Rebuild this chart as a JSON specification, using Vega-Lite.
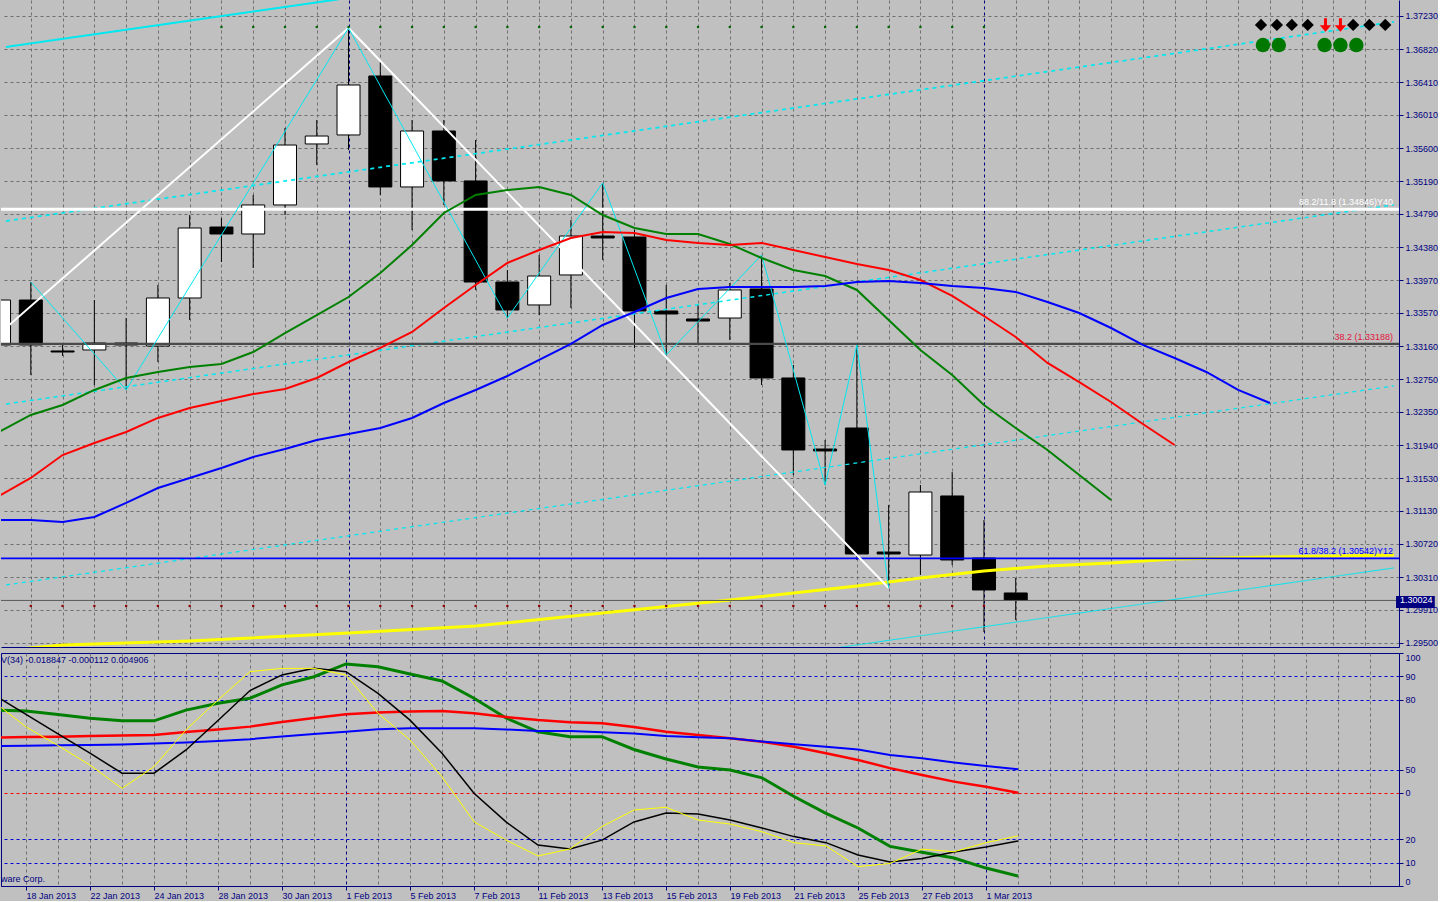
{
  "$schema": "https://vega.github.io/schema/vega-lite/v6.json",
  "background": "#c0c0c0",
  "padding": 0,
  "spacing": 4,
  "config": {
    "view": {"stroke": null},
    "axis": {"labelFont": "Liberation Sans", "labelFontSize": 9, "labelColor": "#000080", "tickColor": "#000080", "domainColor": "#000080", "tickSize": 4, "labelPadding": 2},
    "text": {"font": "Liberation Sans", "fontSize": 9}
  },
  "datasets": {
    "bars": [
      {"i":-1,"o":1.33174,"h":1.33852,"l":1.33050,"c":1.33728},
      {"i":0,"o":1.33728,"h":1.33950,"l":1.32804,"c":1.33174},
      {"i":1,"o":1.33100,"h":1.33174,"l":1.33038,"c":1.33087},
      {"i":2,"o":1.33112,"h":1.33728,"l":1.32680,"c":1.33198},
      {"i":3,"o":1.33198,"h":1.33506,"l":1.32619,"c":1.33174},
      {"i":4,"o":1.33161,"h":1.33913,"l":1.32964,"c":1.33753},
      {"i":5,"o":1.33753,"h":1.34776,"l":1.33482,"c":1.34616},
      {"i":6,"o":1.34628,"h":1.34739,"l":1.34197,"c":1.34542},
      {"i":7,"o":1.34542,"h":1.35023,"l":1.34123,"c":1.34900},
      {"i":8,"o":1.34900,"h":1.35849,"l":1.34776,"c":1.35639},
      {"i":9,"o":1.35652,"h":1.35948,"l":1.35393,"c":1.35750},
      {"i":10,"o":1.35763,"h":1.37082,"l":1.35578,"c":1.36379},
      {"i":11,"o":1.36490,"h":1.36663,"l":1.35023,"c":1.35122},
      {"i":12,"o":1.35122,"h":1.35948,"l":1.34591,"c":1.35812},
      {"i":13,"o":1.35812,"h":1.35948,"l":1.34900,"c":1.35196},
      {"i":14,"o":1.35196,"h":1.35701,"l":1.33852,"c":1.33950},
      {"i":15,"o":1.33950,"h":1.34098,"l":1.33506,"c":1.33605},
      {"i":16,"o":1.33667,"h":1.34283,"l":1.33543,"c":1.34024},
      {"i":17,"o":1.34037,"h":1.34715,"l":1.33630,"c":1.34517},
      {"i":18,"o":1.34517,"h":1.35171,"l":1.34222,"c":1.34493},
      {"i":19,"o":1.34505,"h":1.34591,"l":1.33137,"c":1.33593},
      {"i":20,"o":1.33593,"h":1.33913,"l":1.33050,"c":1.33556},
      {"i":21,"o":1.33494,"h":1.33667,"l":1.33174,"c":1.33469},
      {"i":22,"o":1.33506,"h":1.33938,"l":1.33235,"c":1.33852},
      {"i":23,"o":1.33864,"h":1.34283,"l":1.32680,"c":1.32767},
      {"i":24,"o":1.32767,"h":1.32927,"l":1.31571,"c":1.31879},
      {"i":25,"o":1.31891,"h":1.32002,"l":1.31447,"c":1.31867},
      {"i":26,"o":1.32150,"h":1.33174,"l":1.30523,"c":1.30597},
      {"i":27,"o":1.30621,"h":1.31201,"l":1.30178,"c":1.30597},
      {"i":28,"o":1.30584,"h":1.31447,"l":1.30338,"c":1.31361},
      {"i":29,"o":1.31312,"h":1.31608,"l":1.30461,"c":1.30523},
      {"i":30,"o":1.30547,"h":1.31016,"l":1.29635,"c":1.30153},
      {"i":31,"o":1.30116,"h":1.30301,"l":1.29783,"c":1.30024}
    ],
    "gator": [
      {"s":"lips","i":-1,"p":1.32101},{"s":"lips","i":0,"p":1.32311},{"s":"lips","i":1,"p":1.32434},{"s":"lips","i":2,"p":1.32619},{"s":"lips","i":3,"p":1.32767},{"s":"lips","i":4,"p":1.32841},{"s":"lips","i":5,"p":1.32902},{"s":"lips","i":6,"p":1.32939},{"s":"lips","i":7,"p":1.33087},{"s":"lips","i":8,"p":1.33321},{"s":"lips","i":9,"p":1.33543},{"s":"lips","i":10,"p":1.33765},{"s":"lips","i":11,"p":1.34061},{"s":"lips","i":12,"p":1.34406},{"s":"lips","i":13,"p":1.34801},{"s":"lips","i":14,"p":1.35023},{"s":"lips","i":15,"p":1.35084},{"s":"lips","i":16,"p":1.35122},{"s":"lips","i":17,"p":1.35023},{"s":"lips","i":18,"p":1.34776},{"s":"lips","i":19,"p":1.34616},{"s":"lips","i":20,"p":1.34542},{"s":"lips","i":21,"p":1.34542},{"s":"lips","i":22,"p":1.34419},{"s":"lips","i":23,"p":1.34246},{"s":"lips","i":24,"p":1.34098},{"s":"lips","i":25,"p":1.34024},{"s":"lips","i":26,"p":1.33852},{"s":"lips","i":27,"p":1.33482},{"s":"lips","i":28,"p":1.33112},{"s":"lips","i":29,"p":1.32804},{"s":"lips","i":30,"p":1.32434},{"s":"lips","i":31,"p":1.32150},{"s":"lips","i":32,"p":1.31879},{"s":"lips","i":33,"p":1.31571},{"s":"lips","i":34,"p":1.31262},
      {"s":"teeth","i":-1,"p":1.31312},{"s":"teeth","i":0,"p":1.31534},{"s":"teeth","i":1,"p":1.31817},{"s":"teeth","i":2,"p":1.31965},{"s":"teeth","i":3,"p":1.32101},{"s":"teeth","i":4,"p":1.32274},{"s":"teeth","i":5,"p":1.32397},{"s":"teeth","i":6,"p":1.32483},{"s":"teeth","i":7,"p":1.32569},{"s":"teeth","i":8,"p":1.32631},{"s":"teeth","i":9,"p":1.32767},{"s":"teeth","i":10,"p":1.32964},{"s":"teeth","i":11,"p":1.33137},{"s":"teeth","i":12,"p":1.33334},{"s":"teeth","i":13,"p":1.33630},{"s":"teeth","i":14,"p":1.33913},{"s":"teeth","i":15,"p":1.34185},{"s":"teeth","i":16,"p":1.34345},{"s":"teeth","i":17,"p":1.34493},{"s":"teeth","i":18,"p":1.34567},{"s":"teeth","i":19,"p":1.34554},{"s":"teeth","i":20,"p":1.34468},{"s":"teeth","i":21,"p":1.34431},{"s":"teeth","i":22,"p":1.34406},{"s":"teeth","i":23,"p":1.34431},{"s":"teeth","i":24,"p":1.34345},{"s":"teeth","i":25,"p":1.34258},{"s":"teeth","i":26,"p":1.34172},{"s":"teeth","i":27,"p":1.34098},{"s":"teeth","i":28,"p":1.33975},{"s":"teeth","i":29,"p":1.33778},{"s":"teeth","i":30,"p":1.33531},{"s":"teeth","i":31,"p":1.33272},{"s":"teeth","i":32,"p":1.32952},{"s":"teeth","i":33,"p":1.32717},{"s":"teeth","i":34,"p":1.32471},{"s":"teeth","i":35,"p":1.32200},{"s":"teeth","i":36,"p":1.31941},
      {"s":"jaw","i":-1,"p":1.31016},{"s":"jaw","i":0,"p":1.31016},{"s":"jaw","i":1,"p":1.30991},{"s":"jaw","i":2,"p":1.31053},{"s":"jaw","i":3,"p":1.31226},{"s":"jaw","i":4,"p":1.31410},{"s":"jaw","i":5,"p":1.31534},{"s":"jaw","i":6,"p":1.31657},{"s":"jaw","i":7,"p":1.31793},{"s":"jaw","i":8,"p":1.31891},{"s":"jaw","i":9,"p":1.32002},{"s":"jaw","i":10,"p":1.32076},{"s":"jaw","i":11,"p":1.32150},{"s":"jaw","i":12,"p":1.32274},{"s":"jaw","i":13,"p":1.32458},{"s":"jaw","i":14,"p":1.32619},{"s":"jaw","i":15,"p":1.32791},{"s":"jaw","i":16,"p":1.32989},{"s":"jaw","i":17,"p":1.33186},{"s":"jaw","i":18,"p":1.33420},{"s":"jaw","i":19,"p":1.33580},{"s":"jaw","i":20,"p":1.33753},{"s":"jaw","i":21,"p":1.33864},{"s":"jaw","i":22,"p":1.33889},{"s":"jaw","i":23,"p":1.33889},{"s":"jaw","i":24,"p":1.33889},{"s":"jaw","i":25,"p":1.33901},{"s":"jaw","i":26,"p":1.33950},{"s":"jaw","i":27,"p":1.33963},{"s":"jaw","i":28,"p":1.33938},{"s":"jaw","i":29,"p":1.33901},{"s":"jaw","i":30,"p":1.33876},{"s":"jaw","i":31,"p":1.33827},{"s":"jaw","i":32,"p":1.33704},{"s":"jaw","i":33,"p":1.33568},{"s":"jaw","i":34,"p":1.33383},{"s":"jaw","i":35,"p":1.33174},{"s":"jaw","i":36,"p":1.33013},{"s":"jaw","i":37,"p":1.32841},{"s":"jaw","i":38,"p":1.32619},{"s":"jaw","i":39,"p":1.32458}
    ],
    "slow": [
      {"i":-1,"p":1.29401},{"i":1,"p":1.29475},{"i":5,"p":1.29524},{"i":10,"p":1.29623},{"i":14,"p":1.29709},{"i":18,"p":1.29869},{"i":22,"p":1.30030},{"i":26,"p":1.30202},{"i":28,"p":1.30301},{"i":30,"p":1.30387},{"i":32,"p":1.30449},{"i":34,"p":1.30486},{"i":36,"p":1.30535},{"i":39,"p":1.30560},{"i":42.906,"p":1.30584}
    ],
    "chan": [
      {"line":"A","i":-0.781,"p":1.36848},{"line":"A","i":42.906,"p":1.39302},
      {"line":"B","i":-0.781,"p":1.34702},{"line":"B","i":42.906,"p":1.37157},
      {"line":"C","i":-0.781,"p":1.32446},{"line":"C","i":42.906,"p":1.34901},
      {"line":"D","i":-0.781,"p":1.30215},{"line":"D","i":42.906,"p":1.32669},
      {"line":"E","i":-0.781,"p":1.27971},{"line":"E","i":42.906,"p":1.30425}
    ],
    "zz": [
      {"z":"big","i":-1,"p":1.33309},{"z":"big","i":10,"p":1.37082},{"z":"big","i":27,"p":1.30178},
      {"z":"small","i":0,"p":1.33950},{"z":"small","i":3,"p":1.32619},{"z":"small","i":10,"p":1.37082},{"z":"small","i":15,"p":1.33506},{"z":"small","i":18,"p":1.35171},{"z":"small","i":20,"p":1.33050},{"z":"small","i":23,"p":1.34283},{"z":"small","i":25,"p":1.31447},{"z":"small","i":26,"p":1.33174},{"z":"small","i":27,"p":1.30178}
    ],
    "lvl": [
      {"name":"w","p":1.34846},{"name":"g","p":1.33188},{"name":"b","p":1.30542},{"name":"bid","p":1.30024}
    ],
    "lbl": [
      {"name":"w","i":42.906,"p":1.34846,"t":"88.2/11.8 (1.34846)Y40"},
      {"name":"g","i":42.906,"p":1.33188,"t":"38.2 (1.33188)"},
      {"name":"b","i":42.906,"p":1.30542,"t":"61.8/38.2 (1.30542)Y12"}
    ],
    "dots": [
      {"row":"top","i":6,"p":1.37094},{"row":"top","i":7,"p":1.37094},{"row":"top","i":8,"p":1.37094},{"row":"top","i":9,"p":1.37094},{"row":"top","i":10,"p":1.37094},{"row":"top","i":11,"p":1.37094},{"row":"top","i":12,"p":1.37094},{"row":"top","i":13,"p":1.37094},{"row":"top","i":14,"p":1.37094},{"row":"top","i":15,"p":1.37094},{"row":"top","i":16,"p":1.37094},{"row":"top","i":17,"p":1.37094},{"row":"top","i":18,"p":1.37094},{"row":"top","i":19,"p":1.37094},{"row":"top","i":20,"p":1.37094},{"row":"top","i":21,"p":1.37094},{"row":"top","i":22,"p":1.37094},{"row":"top","i":23,"p":1.37094},{"row":"top","i":24,"p":1.37094},{"row":"top","i":25,"p":1.37094},{"row":"top","i":26,"p":1.37094},{"row":"top","i":27,"p":1.37094},{"row":"top","i":28,"p":1.37094},{"row":"top","i":29,"p":1.37094},{"row":"top","i":30,"p":1.37094},
      {"row":"bot","i":0,"p":1.29956},{"row":"bot","i":1,"p":1.29956},{"row":"bot","i":2,"p":1.29956},{"row":"bot","i":3,"p":1.29956},{"row":"bot","i":4,"p":1.29956},{"row":"bot","i":5,"p":1.29956},{"row":"bot","i":6,"p":1.29956},{"row":"bot","i":7,"p":1.29956},{"row":"bot","i":8,"p":1.29956},{"row":"bot","i":9,"p":1.29956},{"row":"bot","i":10,"p":1.29956},{"row":"bot","i":11,"p":1.29956},{"row":"bot","i":12,"p":1.29956},{"row":"bot","i":13,"p":1.29956},{"row":"bot","i":14,"p":1.29956},{"row":"bot","i":15,"p":1.29956},{"row":"bot","i":16,"p":1.29956},{"row":"bot","i":17,"p":1.29956},{"row":"bot","i":18,"p":1.29956},{"row":"bot","i":19,"p":1.29956},{"row":"bot","i":20,"p":1.29956},{"row":"bot","i":21,"p":1.29956},{"row":"bot","i":22,"p":1.29956},{"row":"bot","i":23,"p":1.29956},{"row":"bot","i":24,"p":1.29956},{"row":"bot","i":25,"p":1.29956},{"row":"bot","i":26,"p":1.29956},{"row":"bot","i":27,"p":1.29956},{"row":"bot","i":28,"p":1.29956},{"row":"bot","i":29,"p":1.29956},{"row":"bot","i":30,"p":1.29956}
    ],
    "panel": [
      {"sym":"diamond","i":38.72,"p":1.37119},{"sym":"diamond","i":39.22,"p":1.37119},{"sym":"diamond","i":39.69,"p":1.37119},{"sym":"diamond","i":40.19,"p":1.37119},
      {"sym":"arrow","i":40.75,"p":1.37119},{"sym":"arrow","i":41.22,"p":1.37119},
      {"sym":"diamond","i":41.62,"p":1.37119},{"sym":"diamond","i":42.13,"p":1.37119},{"sym":"diamond","i":42.63,"p":1.37119},
      {"sym":"circle","i":38.78,"p":1.36872},{"sym":"circle","i":39.28,"p":1.36872},{"sym":"circle","i":40.72,"p":1.36872},{"sym":"circle","i":41.22,"p":1.36872},{"sym":"circle","i":41.72,"p":1.36872}
    ],
    "bid": [{"i1":42.97,"i2":44.19,"p1":1.30079,"p2":1.29931,"t":"1.30024"}],
    "osc": [
      {"s":"green","i":-1,"v":75.5},{"s":"green","i":0,"v":75.1},{"s":"green","i":1,"v":73.6},{"s":"green","i":2,"v":72.0},{"s":"green","i":3,"v":70.9},{"s":"green","i":4,"v":70.9},{"s":"green","i":5,"v":75.5},{"s":"green","i":6,"v":78.4},{"s":"green","i":7,"v":80.6},{"s":"green","i":8,"v":86.3},{"s":"green","i":9,"v":89.8},{"s":"green","i":10,"v":95.3},{"s":"green","i":11,"v":94.1},{"s":"green","i":12,"v":91.0},{"s":"green","i":13,"v":88.0},{"s":"green","i":14,"v":80.6},{"s":"green","i":15,"v":72.1},{"s":"green","i":16,"v":66.2},{"s":"green","i":17,"v":64.1},{"s":"green","i":18,"v":64.1},{"s":"green","i":19,"v":58.6},{"s":"green","i":20,"v":54.5},{"s":"green","i":21,"v":51.1},{"s":"green","i":22,"v":49.8},{"s":"green","i":23,"v":46.4},{"s":"green","i":24,"v":38.4},{"s":"green","i":25,"v":31.2},{"s":"green","i":26,"v":24.9},{"s":"green","i":27,"v":17.0},{"s":"green","i":28,"v":14.5},{"s":"green","i":29,"v":12.0},{"s":"green","i":30,"v":7.7},{"s":"green","i":31,"v":4.3},
      {"s":"red","i":-1,"v":63.7},{"s":"red","i":0,"v":63.9},{"s":"red","i":1,"v":64.1},{"s":"red","i":2,"v":64.4},{"s":"red","i":3,"v":64.6},{"s":"red","i":4,"v":64.8},{"s":"red","i":5,"v":66.1},{"s":"red","i":6,"v":67.2},{"s":"red","i":7,"v":68.4},{"s":"red","i":8,"v":70.4},{"s":"red","i":9,"v":72.1},{"s":"red","i":10,"v":73.7},{"s":"red","i":11,"v":74.5},{"s":"red","i":12,"v":74.9},{"s":"red","i":13,"v":75.1},{"s":"red","i":14,"v":74.1},{"s":"red","i":15,"v":72.5},{"s":"red","i":16,"v":71.2},{"s":"red","i":17,"v":70.3},{"s":"red","i":18,"v":69.8},{"s":"red","i":19,"v":68.2},{"s":"red","i":20,"v":66.2},{"s":"red","i":21,"v":64.8},{"s":"red","i":22,"v":63.4},{"s":"red","i":23,"v":61.9},{"s":"red","i":24,"v":59.8},{"s":"red","i":25,"v":57.0},{"s":"red","i":26,"v":54.1},{"s":"red","i":27,"v":50.6},{"s":"red","i":28,"v":47.6},{"s":"red","i":29,"v":44.8},{"s":"red","i":30,"v":42.6},{"s":"red","i":31,"v":40.0},
      {"s":"blue","i":-1,"v":60.1},{"s":"blue","i":0,"v":60.2},{"s":"blue","i":1,"v":60.4},{"s":"blue","i":2,"v":60.5},{"s":"blue","i":3,"v":60.7},{"s":"blue","i":4,"v":61.2},{"s":"blue","i":5,"v":61.6},{"s":"blue","i":6,"v":62.2},{"s":"blue","i":7,"v":63.0},{"s":"blue","i":8,"v":64.2},{"s":"blue","i":9,"v":65.2},{"s":"blue","i":10,"v":66.2},{"s":"blue","i":11,"v":67.3},{"s":"blue","i":12,"v":67.7},{"s":"blue","i":13,"v":67.7},{"s":"blue","i":14,"v":67.7},{"s":"blue","i":15,"v":67.2},{"s":"blue","i":16,"v":66.5},{"s":"blue","i":17,"v":66.5},{"s":"blue","i":18,"v":66.0},{"s":"blue","i":19,"v":65.5},{"s":"blue","i":20,"v":64.4},{"s":"blue","i":21,"v":63.8},{"s":"blue","i":22,"v":63.4},{"s":"blue","i":23,"v":62.0},{"s":"blue","i":24,"v":60.8},{"s":"blue","i":25,"v":59.8},{"s":"blue","i":26,"v":58.6},{"s":"blue","i":27,"v":56.2},{"s":"blue","i":28,"v":54.8},{"s":"blue","i":29,"v":53.0},{"s":"blue","i":30,"v":51.5},{"s":"blue","i":31,"v":50.1},
      {"s":"black","i":-1,"v":82.0},{"s":"black","i":0,"v":73.7},{"s":"black","i":1,"v":65.3},{"s":"black","i":2,"v":57.0},{"s":"black","i":3,"v":48.4},{"s":"black","i":4,"v":48.4},{"s":"black","i":5,"v":58.4},{"s":"black","i":6,"v":71.0},{"s":"black","i":7,"v":83.9},{"s":"black","i":8,"v":90.6},{"s":"black","i":9,"v":93.4},{"s":"black","i":10,"v":92.0},{"s":"black","i":11,"v":82.7},{"s":"black","i":12,"v":71.2},{"s":"black","i":13,"v":57.0},{"s":"black","i":14,"v":39.8},{"s":"black","i":15,"v":27.5},{"s":"black","i":16,"v":17.6},{"s":"black","i":17,"v":15.9},{"s":"black","i":18,"v":19.7},{"s":"black","i":19,"v":27.5},{"s":"black","i":20,"v":31.3},{"s":"black","i":21,"v":30.9},{"s":"black","i":22,"v":28.3},{"s":"black","i":23,"v":24.9},{"s":"black","i":24,"v":21.2},{"s":"black","i":25,"v":18.6},{"s":"black","i":26,"v":13.3},{"s":"black","i":27,"v":10.3},{"s":"black","i":28,"v":11.8},{"s":"black","i":29,"v":14.6},{"s":"black","i":30,"v":16.7},{"s":"black","i":31,"v":19.3},
      {"s":"yellow","i":-1,"v":79.0},{"s":"yellow","i":0,"v":68.3},{"s":"yellow","i":1,"v":60.3},{"s":"yellow","i":2,"v":51.9},{"s":"yellow","i":3,"v":41.9},{"s":"yellow","i":4,"v":51.2},{"s":"yellow","i":5,"v":67.0},{"s":"yellow","i":6,"v":79.8},{"s":"yellow","i":7,"v":92.0},{"s":"yellow","i":8,"v":93.4},{"s":"yellow","i":9,"v":93.4},{"s":"yellow","i":10,"v":90.6},{"s":"yellow","i":11,"v":74.1},{"s":"yellow","i":12,"v":62.7},{"s":"yellow","i":13,"v":46.9},{"s":"yellow","i":14,"v":27.6},{"s":"yellow","i":15,"v":19.7},{"s":"yellow","i":16,"v":12.9},{"s":"yellow","i":17,"v":15.9},{"s":"yellow","i":18,"v":25.5},{"s":"yellow","i":19,"v":32.6},{"s":"yellow","i":20,"v":33.8},{"s":"yellow","i":21,"v":28.3},{"s":"yellow","i":22,"v":26.6},{"s":"yellow","i":23,"v":23.3},{"s":"yellow","i":24,"v":18.6},{"s":"yellow","i":25,"v":17.2},{"s":"yellow","i":26,"v":8.3},{"s":"yellow","i":27,"v":9.7},{"s":"yellow","i":28,"v":15.8},{"s":"yellow","i":29,"v":14.7},{"s":"yellow","i":30,"v":18.6},{"s":"yellow","i":31,"v":21.5}
    ],
    "notes": [
      {"i":-0.781,"v":96.8,"t":"V(34) -0.018847 -0.000112 0.004906"},
      {"i":-0.781,"v":3.0,"t":"ware Corp."}
    ]
  },
  "vconcat": [
    {
      "width": 1398,
      "height": 647,
      "resolve": {"scale": {"color": "independent", "strokeDash": "independent", "strokeWidth": "independent", "shape": "independent", "size": "independent"}},
      "layer": [
        {
          "data": {"name": "bars"},
          "mark": {"type": "rule", "color": "#000000", "strokeWidth": 1, "clip": true},
          "encoding": {
            "x": {"field": "i", "type": "quantitative", "scale": {"domain": [-0.781, 42.906], "nice": false, "zero": false},
              "axis": {"orient": "bottom", "tickCount": 200, "values": [0,1,2,3,4,5,6,7,8,9,10,11,12,13,14,15,16,17,18,19,20,21,22,23,24,25,26,27,28,29,30,31,32,33,34,35,36,37,38,39,40,41,42],
                "labels": false, "ticks": false, "domain": true, "grid": true,
                "gridColor": {"condition": {"test": "datum.value == 10 || datum.value == 30", "value": "#000080"}, "value": "#6e6e6e"},
                "gridDash": [3, 3], "title": null}},
            "y": {"field": "l", "type": "quantitative", "scale": {"domain": [1.2945, 1.37427], "nice": false, "zero": false},
              "axis": {"orient": "right", "tickCount": 200, "values": [1.2950,1.2991,1.3031,1.3072,1.3113,1.3153,1.3194,1.3235,1.3275,1.3316,1.3357,1.3397,1.3438,1.3479,1.3519,1.3560,1.3601,1.3641,1.3682,1.3723],
                "format": ".5f", "grid": true, "gridColor": "#6e6e6e", "gridDash": [3, 3], "labelOverlap": false, "title": null}},
            "y2": {"field": "h"}
          }
        },
        {
          "data": {"name": "bars"},
          "mark": {"type": "bar", "width": 23, "stroke": "#000000", "strokeWidth": 1, "clip": true},
          "encoding": {
            "x": {"field": "i", "type": "quantitative", "title": null},
            "y": {"field": "o", "type": "quantitative", "title": null},
            "y2": {"field": "c"},
            "fill": {"condition": {"test": "datum.c > datum.o", "value": "#ffffff"}, "value": "#000000"}
          }
        },
        {
          "data": {"name": "chan"},
          "mark": {"type": "line", "color": "#00e8f0", "clip": true},
          "encoding": {
            "x": {"field": "i", "type": "quantitative", "title": null},
            "y": {"field": "p", "type": "quantitative", "title": null},
            "detail": {"field": "line"},
            "strokeDash": {"field": "line", "type": "nominal", "legend": null,
              "scale": {"domain": ["A","B","C","D","E"], "range": [[1,0],[4,4],[4,4],[4,4],[1,0]]}},
            "strokeWidth": {"field": "line", "type": "nominal", "legend": null,
              "scale": {"domain": ["A","B","C","D","E"], "range": [2,1,1,1,2]}}
          }
        },
        {
          "data": {"name": "slow"},
          "mark": {"type": "line", "color": "#ffff00", "strokeWidth": 3, "clip": true},
          "encoding": {
            "x": {"field": "i", "type": "quantitative", "title": null},
            "y": {"field": "p", "type": "quantitative", "title": null}
          }
        },
        {
          "data": {"name": "lvl"},
          "mark": {"type": "rule", "clip": true},
          "encoding": {
            "y": {"field": "p", "type": "quantitative", "title": null},
            "color": {"field": "name", "type": "nominal", "legend": null,
              "scale": {"domain": ["w","g","b","bid"], "range": ["#ffffff","#4a4a4a","#0000ff","#5a5a5a"]}},
            "strokeWidth": {"field": "name", "type": "nominal", "legend": null,
              "scale": {"domain": ["w","g","b","bid"], "range": [3,1,2,1]}}
          }
        },
        {
          "data": {"name": "zz"},
          "mark": {"type": "line", "clip": true},
          "encoding": {
            "x": {"field": "i", "type": "quantitative", "title": null},
            "y": {"field": "p", "type": "quantitative", "title": null},
            "color": {"field": "z", "type": "nominal", "legend": null,
              "scale": {"domain": ["big","small"], "range": ["#ffffff","#00e8f0"]}},
            "strokeWidth": {"field": "z", "type": "nominal", "legend": null,
              "scale": {"domain": ["big","small"], "range": [2,1]}}
          }
        },
        {
          "data": {"name": "gator"},
          "mark": {"type": "line", "strokeWidth": 2, "clip": true},
          "encoding": {
            "x": {"field": "i", "type": "quantitative", "title": null},
            "y": {"field": "p", "type": "quantitative", "title": null},
            "color": {"field": "s", "type": "nominal", "legend": null,
              "scale": {"domain": ["jaw","teeth","lips"], "range": ["#0000ff","#ff0000","#008000"]}}
          }
        },
        {
          "data": {"name": "lbl"},
          "mark": {"type": "text", "align": "right", "baseline": "bottom", "dx": -1, "dy": -2, "fontSize": 9},
          "encoding": {
            "x": {"field": "i", "type": "quantitative", "title": null},
            "y": {"field": "p", "type": "quantitative", "title": null},
            "text": {"field": "t"},
            "color": {"field": "name", "type": "nominal", "legend": null,
              "scale": {"domain": ["w","g","b"], "range": ["#ffffff","#e0143c","#0000ff"]}}
          }
        },
        {
          "data": {"name": "dots"},
          "mark": {"type": "point", "shape": "square", "filled": true, "size": 5, "opacity": 1},
          "encoding": {
            "x": {"field": "i", "type": "quantitative", "title": null},
            "y": {"field": "p", "type": "quantitative", "title": null},
            "color": {"field": "row", "type": "nominal", "legend": null,
              "scale": {"domain": ["top","bot"], "range": ["#006400","#8b0000"]}}
          }
        },
        {
          "data": {"name": "panel"},
          "mark": {"type": "point", "filled": true, "opacity": 1},
          "encoding": {
            "x": {"field": "i", "type": "quantitative", "title": null},
            "y": {"field": "p", "type": "quantitative", "title": null},
            "shape": {"field": "sym", "type": "nominal", "legend": null,
              "scale": {"domain": ["diamond","arrow","circle"], "range": ["diamond","M-0.22,-1L0.22,-1L0.22,0.05L0.85,0.05L0,1L-0.85,0.05L-0.22,0.05Z","circle"]}},
            "color": {"field": "sym", "type": "nominal", "legend": null,
              "scale": {"domain": ["diamond","arrow","circle"], "range": ["#000000","#ff0000","#007800"]}},
            "size": {"field": "sym", "type": "nominal", "legend": null,
              "scale": {"domain": ["diamond","arrow","circle"], "range": [150, 210, 81]}}
          }
        },
        {
          "data": {"name": "bid"},
          "mark": {"type": "rect", "color": "#000080"},
          "encoding": {
            "x": {"field": "i1", "type": "quantitative", "title": null},
            "x2": {"field": "i2"},
            "y": {"field": "p1", "type": "quantitative", "title": null},
            "y2": {"field": "p2"}
          }
        },
        {
          "data": {"name": "bid"},
          "mark": {"type": "text", "align": "left", "baseline": "middle", "dx": 4, "color": "#ffffff", "fontSize": 9},
          "encoding": {
            "x": {"field": "i1", "type": "quantitative", "title": null},
            "y": {"field": "t", "type": "quantitative", "title": null},
            "text": {"field": "t"}
          }
        }
      ]
    },
    {
      "width": 1398,
      "height": 233,
      "view": {"stroke": "#000080"},
      "layer": [
        {
          "data": {"name": "osc"},
          "mark": {"type": "line", "clip": true},
          "encoding": {
            "x": {"field": "i", "type": "quantitative", "scale": {"domain": [-0.781, 42.906], "nice": false, "zero": false},
              "axis": {"orient": "bottom", "tickCount": 200, "values": [0,1,2,3,4,5,6,7,8,9,10,11,12,13,14,15,16,17,18,19,20,21,22,23,24,25,26,27,28,29,30,31,32,33,34,35,36,37,38,39,40,41,42],
                "labelExpr": "(datum.value % 2 == 0 && datum.value <= 30) ? ['18 Jan 2013','22 Jan 2013','24 Jan 2013','28 Jan 2013','30 Jan 2013','1 Feb 2013','5 Feb 2013','7 Feb 2013','11 Feb 2013','13 Feb 2013','15 Feb 2013','19 Feb 2013','21 Feb 2013','25 Feb 2013','27 Feb 2013','1 Mar 2013'][datum.value / 2] : ''",
                "labelAlign": "left", "labelBaseline": "top", "labelPadding": 1, "labelOverlap": false, "labelFlush": false,
                "tickColor": {"condition": {"test": "datum.value % 2 == 1 || datum.value > 30", "value": "transparent"}, "value": "#000080"},
                "grid": true,
                "gridColor": {"condition": {"test": "datum.value == 10 || datum.value == 30", "value": "#000080"}, "value": "#6e6e6e"},
                "gridDash": [3, 3], "title": null}},
            "y": {"field": "v", "type": "quantitative", "scale": {"domain": [0, 100], "nice": false, "zero": false},
              "axis": {"orient": "right", "tickCount": 200, "format": "d", "values": [0, 10, 20, 40, 50, 80, 90, 100],
                "labelExpr": "datum.value == 40 ? '0' : datum.label", "labelFlush": true, "labelOverlap": false,
                "grid": true,
                "gridColor": {"condition": {"test": "datum.value == 40", "value": "#ff0000"}, "value": "#0000d0"},
                "gridOpacity": {"condition": {"test": "datum.value == 0 || datum.value == 100", "value": 0}, "value": 1},
                "gridDash": [3, 3], "title": null}},
            "color": {"field": "s", "type": "nominal", "legend": null,
              "scale": {"domain": ["green","red","blue","black","yellow"], "range": ["#008000","#ff0000","#0000ff","#000000","#ffff00"]}},
            "strokeWidth": {"field": "s", "type": "nominal", "legend": null,
              "scale": {"domain": ["green","red","blue","black","yellow"], "range": [3,1,1,1,1]}}
          }
        },
        {
          "data": {"name": "notes"},
          "mark": {"type": "text", "align": "left", "baseline": "middle", "color": "#000080", "fontSize": 9},
          "encoding": {
            "x": {"field": "i", "type": "quantitative", "title": null},
            "y": {"field": "v", "type": "quantitative", "title": null},
            "text": {"field": "t"}
          }
        }
      ]
    }
  ]
}
